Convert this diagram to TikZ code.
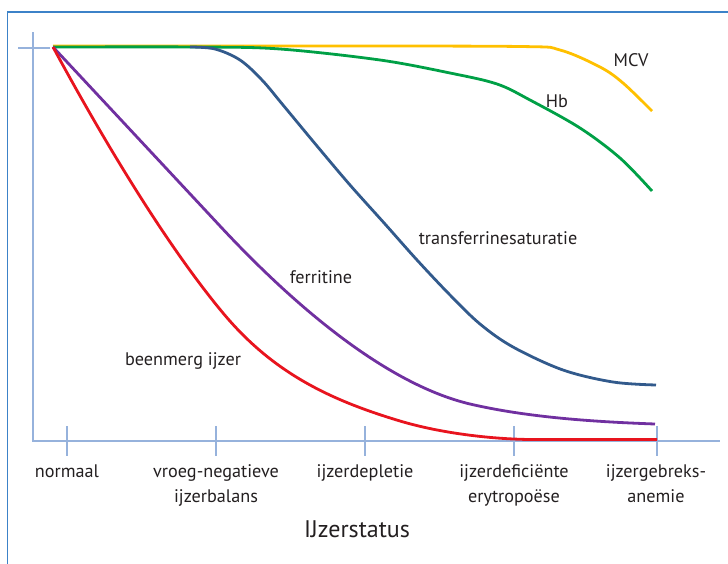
\documentclass[tikz,border=0pt]{standalone}
\usepackage{fontspec}
\setmainfont{PT Sans}
\definecolor{framecol}{RGB}{60,130,200}
\definecolor{axiscol}{RGB}{150,178,220}
\definecolor{mcvcol}{RGB}{255,192,0}
\definecolor{hbcol}{RGB}{0,160,70}
\definecolor{tfcol}{RGB}{50,90,140}
\definecolor{fercol}{RGB}{112,48,160}
\definecolor{bmcol}{RGB}{232,20,30}
\definecolor{txtcol}{RGB}{35,31,32}
\tikzset{
  axisline/.style={draw=axiscol, line width=1.6pt},
  curve/.style={line width=2.8pt, line join=round, smooth, tension=0.55},
  lbl/.style={text=txtcol, font=\fontsize{18.2}{25}\selectfont, anchor=base, inner sep=0pt},
}
\begin{document}
\begin{tikzpicture}[x=1pt,y=-1pt]
\useasboundingbox (0,0) rectangle (728,563);
\begin{scope}
\clip (0,0) rectangle (728,563);
\draw[framecol, line width=1.4pt] (7.5,12) rectangle (760,600);
\end{scope}
% axes
\coordinate (ytop) at (33,32);
\coordinate (orig) at (33,441);
\coordinate (xend) at (720,441);
\draw[axisline] (ytop) -- (orig) -- (xend);
\coordinate (ytl) at (18,48);
\coordinate (ytr) at (50,48);
\draw[axisline] (ytl) -- (ytr);
\foreach \x/\n in {67/a,216/b,365/c,514/d,657/e}{
  \coordinate (t\n1) at (\x,426);
  \coordinate (t\n2) at (\x,456);
  \draw[axisline] (t\n1) -- (t\n2);
}
% curves
\coordinate (start) at (53,47);
\draw[curve, mcvcol] plot coordinates {(53,46) (300,46) (520,46.5) (560,50) (600,67) (623,83) (652,111)};
\draw[curve, hbcol] plot coordinates {(53,47) (200,47) (280,49) (380,60) (450,73) (497,84) (530,100) (580,128) (620,158) (652,191)};
\draw[curve, tfcol] plot coordinates {(190,47) (215,49) (240,60) (262,80) (283,105) (317,146) (350,185) (385,224) (417,260) (450,295) (480,324) (513,347) (563,370) (613,382) (656,385)};
\draw[fercol, line width=2.8pt, line join=round]
  (start) -- (220,226) .. controls (300,312) and (390,385) .. (470,404)
  .. controls (530,418) and (600,422) .. (655,424);
\draw[bmcol, line width=2.8pt, line join=round]
  (start) .. controls (113,158) and (173,253) .. (223,313)
  .. controls (273,373) and (330,400) .. (400,421)
  .. controls (440,433) and (490,439) .. (530,439.5) -- (657,439.5);
% curve labels
\node[lbl] (mcv) at (631,66.5) {MCV};
\node[lbl] (hb) at (557,107) {Hb};
\node[lbl] (tf) at (498,244) {transferrinesaturatie};
\node[lbl] (fer) at (321,283) {ferritine};
\node[lbl] (bm) at (183,365) {beenmerg ijzer};
% category labels
\node[lbl] (ca) at (67,477) {normaal};
\node[lbl, align=center] (cb) at (216,502) {vroeg-negatieve\\ijzerbalans};
\node[lbl] (cc) at (365,477) {ijzerdepletie};
\node[lbl, align=center] (cd) at (514,502) {ijzerdeficiënte\\erytropoëse};
\node[lbl, align=center] (ce) at (656,502) {ijzergebreks-\\anemie};
\node[lbl, font=\fontsize{24}{30}\selectfont] (title) at (357,537) {IJzerstatus};
\end{tikzpicture}
\end{document}
